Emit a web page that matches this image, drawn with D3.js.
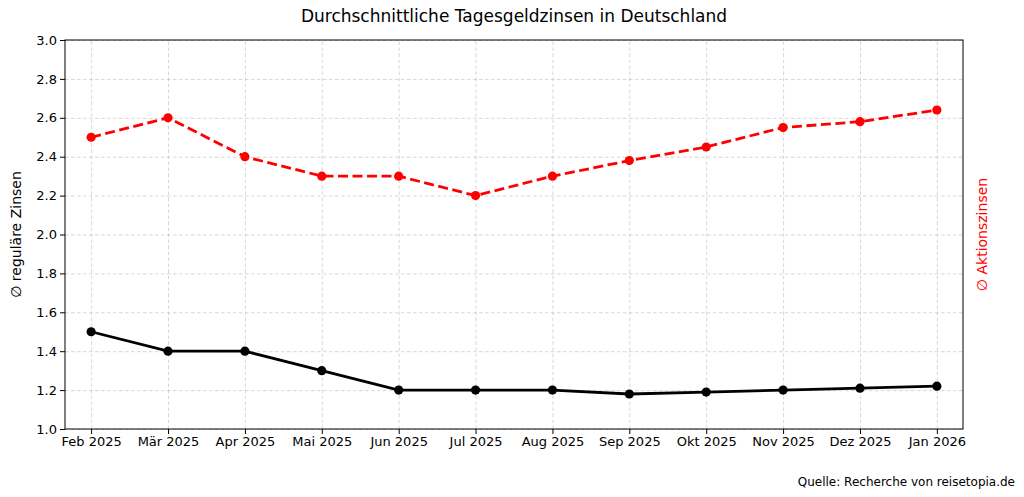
<!DOCTYPE html>
<html>
<head>
<meta charset="utf-8">
<script src="https://cdn.jsdelivr.net/npm/d3@7"></script>
<style>
  body { margin: 0; background: #fff; }
  svg text { font-family: "DejaVu Sans", sans-serif; }
  .grid line { stroke: #b0b0b0; stroke-opacity: 0.5; stroke-dasharray: 3.5,2.5; }
  .grid path { display: none; }
  .axis text { font-size: 13px; fill: #000; }
  .axis line { stroke: #000; }
  .axis path { display: none; }
</style>
</head>
<body>
<svg width="1024" height="497"></svg>
<script>
// data
var months = ['Feb 2025', 'Mär 2025', 'Apr 2025', 'Mai 2025', 'Jun 2025', 'Jul 2025',
    'Aug 2025', 'Sep 2025', 'Okt 2025', 'Nov 2025', 'Dez 2025', 'Jan 2026'];
var regular = [1.50, 1.40, 1.40, 1.30, 1.20, 1.20, 1.20, 1.18, 1.19, 1.20, 1.21, 1.22];
var promo = [2.50, 2.60, 2.40, 2.30, 2.30, 2.20, 2.30, 2.38, 2.45, 2.55, 2.58, 2.64];
var yTicks = [1.0, 1.2, 1.4, 1.6, 1.8, 2.0, 2.2, 2.4, 2.6, 2.8, 3.0];

var svg = d3.select('svg');
var svgWidth = +svg.attr('width');
var svgHeight = +svg.attr('height');

var padding = {t: 40, r: 61, b: 68, l: 65};
var chartWidth = svgWidth - padding.l - padding.r;
var chartHeight = svgHeight - padding.t - padding.b;

var chartG = svg.append('g')
    .attr('transform', 'translate(' + [padding.l, padding.t] + ')');

var xScale = d3.scalePoint()
    .domain(months)
    .range([0, chartWidth])
    .padding(0.34);

var yScale = d3.scaleLinear()
    .domain([1.0, 3.0])
    .range([chartHeight, 0]);

// grid
chartG.append('g')
    .attr('class', 'grid')
    .attr('transform', 'translate(0,' + chartHeight + ')')
    .call(d3.axisBottom(xScale).tickSize(-chartHeight).tickFormat(''));

chartG.append('g')
    .attr('class', 'grid')
    .call(d3.axisLeft(yScale).tickValues(yTicks).tickSize(-chartWidth).tickFormat(''));

// axes
chartG.append('g')
    .attr('class', 'x axis')
    .attr('transform', 'translate(0,' + chartHeight + ')')
    .call(d3.axisBottom(xScale).tickSize(5).tickPadding(3));

chartG.append('g')
    .attr('class', 'y axis')
    .call(d3.axisLeft(yScale).tickValues(yTicks).tickFormat(d3.format('.1f')).tickSize(5).tickPadding(3));

// frame
chartG.append('rect')
    .attr('width', chartWidth)
    .attr('height', chartHeight)
    .style('fill', 'none')
    .style('stroke', '#000')
    .style('stroke-width', 1);

var line = d3.line()
    .x(function(d, i) { return xScale(months[i]); })
    .y(function(d) { return yScale(d); });

function drawSeries(values, color, dash) {
    chartG.append('path')
        .datum(values)
        .attr('d', line)
        .style('fill', 'none')
        .style('stroke', color)
        .style('stroke-width', 2.8)
        .style('stroke-dasharray', dash);

    chartG.selectAll(null)
        .data(values)
        .enter()
        .append('circle')
        .attr('cx', function(d, i) { return xScale(months[i]); })
        .attr('cy', function(d) { return yScale(d); })
        .attr('r', 4.6)
        .style('fill', color);
}

drawSeries(regular, '#000', null);
drawSeries(promo, '#ff0000', '10,4.5');

// title
svg.append('text')
    .attr('x', padding.l + chartWidth / 2)
    .attr('y', 22)
    .attr('text-anchor', 'middle')
    .style('font-size', '17px')
    .text('Durchschnittliche Tagesgeldzinsen in Deutschland');

// axis labels
svg.append('text')
    .attr('transform', 'translate(' + [21, padding.t + chartHeight / 2] + ') rotate(-90)')
    .attr('text-anchor', 'middle')
    .style('font-size', '14px')
    .text('∅ reguläre Zinsen');

svg.append('text')
    .attr('transform', 'translate(' + [987, padding.t + chartHeight / 2] + ') rotate(-90)')
    .attr('text-anchor', 'middle')
    .style('font-size', '14px')
    .style('fill', '#ff0000')
    .text('∅ Aktionszinsen');

// source note
svg.append('text')
    .attr('x', 1015)
    .attr('y', 486)
    .attr('text-anchor', 'end')
    .style('font-size', '12px')
    .text('Quelle: Recherche von reisetopia.de');
</script>
</body>
</html>
